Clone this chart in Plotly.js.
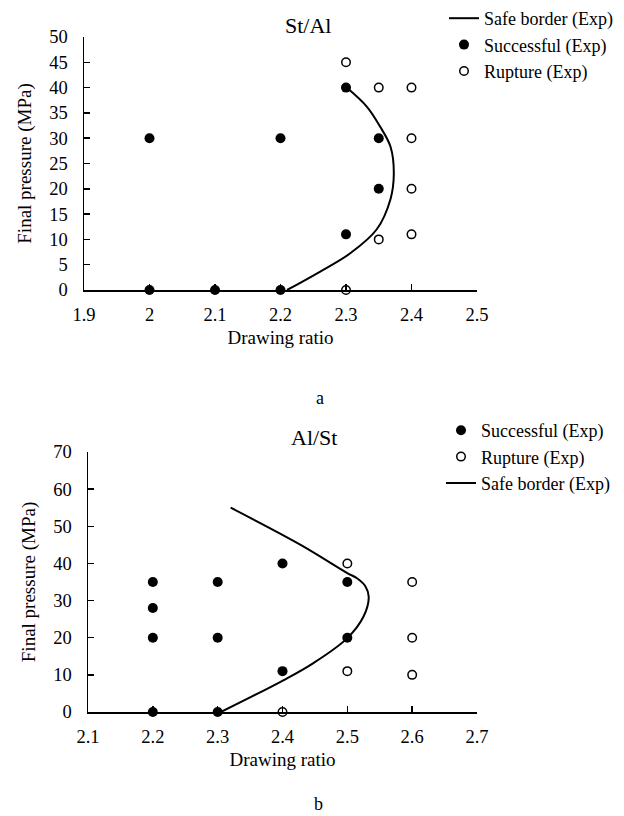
<!DOCTYPE html>
<html>
<head>
<meta charset="utf-8">
<script src="https://cdn.plot.ly/plotly-3.0.1.min.js"></script>
<style>html,body{margin:0;padding:0;background:#fff;}#chart{width:624px;height:816px;}</style>
</head>
<body>
<div id="chart"></div>
<script>
// ---- Chart a: St/Al ----
const aSuccessX = [2, 2.1, 2.2, 2, 2.2, 2.3, 2.35, 2.35, 2.3];
const aSuccessY = [0, 0, 0, 30, 30, 40, 30, 20, 11];
const aRuptureX = [2.3, 2.35, 2.4, 2.4, 2.4, 2.4, 2.35, 2.3];
const aRuptureY = [45, 40, 40, 30, 20, 11, 10, 0];
const aBorderX = [2.21, 2.26, 2.307, 2.347, 2.368, 2.373, 2.368, 2.352, 2.332, 2.301];
const aBorderY = [0, 3.6, 7.3, 12, 18, 23, 28.3, 32.3, 36.2, 40];

// ---- Chart b: Al/St ----
const bSuccessX = [2.2, 2.3, 2.2, 2.2, 2.2, 2.3, 2.3, 2.4, 2.4, 2.5, 2.5];
const bSuccessY = [0, 0, 20, 28, 35, 20, 35, 40, 11, 35, 20];
const bRuptureX = [2.4, 2.5, 2.5, 2.6, 2.6, 2.6];
const bRuptureY = [0, 40, 11, 35, 20, 10];
const bBorderX = [2.305, 2.402, 2.447, 2.5, 2.525, 2.533, 2.528, 2.515, 2.5, 2.428, 2.32];
const bBorderY = [0, 8.6, 13.1, 19.9, 25.7, 31, 33.8, 36, 37.4, 45, 55];

const names = {border: 'Safe border (Exp)', success: 'Successful (Exp)', rupture: 'Rupture (Exp)'};
const FONT = 'Liberation Serif, Times New Roman, serif';

const filled = {symbol: 'circle', size: 10, color: '#000'};
const open = {symbol: 'circle-open', size: 8.5, color: '#000', line: {width: 1.5, color: '#000'}};

const traces = [
  {x: aBorderX, y: aBorderY, mode: 'lines', name: names.border, line: {color: '#000', width: 2, shape: 'spline'},
   xaxis: 'x', yaxis: 'y', legend: 'legend', legendrank: 1, cliponaxis: false},
  {x: aSuccessX, y: aSuccessY, mode: 'markers', name: names.success, marker: filled,
   xaxis: 'x', yaxis: 'y', legend: 'legend', legendrank: 2, cliponaxis: false},
  {x: aRuptureX, y: aRuptureY, mode: 'markers', name: names.rupture, marker: open,
   xaxis: 'x', yaxis: 'y', legend: 'legend', legendrank: 3, cliponaxis: false},
  {x: bSuccessX, y: bSuccessY, mode: 'markers', name: names.success, marker: filled,
   xaxis: 'x2', yaxis: 'y2', legend: 'legend2', legendrank: 1, cliponaxis: false},
  {x: bRuptureX, y: bRuptureY, mode: 'markers', name: names.rupture, marker: open,
   xaxis: 'x2', yaxis: 'y2', legend: 'legend2', legendrank: 2, cliponaxis: false},
  {x: bBorderX, y: bBorderY, mode: 'lines', name: names.border, line: {color: '#000', width: 2, shape: 'spline'},
   xaxis: 'x2', yaxis: 'y2', legend: 'legend2', legendrank: 3, cliponaxis: false}
];

const W = 624, H = 816;
function axisCommon() {
  return {
    showgrid: false, zeroline: false, showline: true, linecolor: '#000', linewidth: 1.5,
    ticks: 'inside', ticklen: 6, tickwidth: 1.5, tickcolor: '#000',
    tickfont: {family: FONT, size: 18.5, color: '#000'}, automargin: false, fixedrange: true
  };
}
const xTitle = {text: 'Drawing ratio', font: {family: FONT, size: 19, color: '#000'}, standoff: 7};
const yTitle = {text: 'Final pressure (MPa)', font: {family: FONT, size: 19, color: '#000'}, standoff: 12};

const layout = {
  width: W, height: H,
  margin: {l: 0, r: 0, t: 0, b: 0},
  paper_bgcolor: '#fff', plot_bgcolor: '#fff',
  font: {family: FONT, size: 18, color: '#000'},
  showlegend: true,
  xaxis: Object.assign(axisCommon(), {domain: [84 / W, 477 / W], range: [1.9, 2.5], dtick: 0.1, tick0: 1.9,
    anchor: 'y', title: xTitle, ticklabelstandoff: 7}),
  yaxis: Object.assign(axisCommon(), {domain: [1 - 290 / H, 1 - 37 / H], range: [0, 50], dtick: 5,
    anchor: 'x', title: yTitle, ticklabelstandoff: 11}),
  xaxis2: Object.assign(axisCommon(), {domain: [88 / W, 477 / W], range: [2.1, 2.7], dtick: 0.1, tick0: 2.1,
    anchor: 'y2', title: xTitle, ticklabelstandoff: 7}),
  yaxis2: Object.assign(axisCommon(), {domain: [1 - 712 / H, 1 - 452 / H], range: [0, 70], dtick: 10,
    anchor: 'x2', title: yTitle, ticklabelstandoff: 11}),
  legend: {x: 444 / W, y: 1, xanchor: 'left', yanchor: 'top', bgcolor: 'rgba(0,0,0,0)',
    font: {family: FONT, size: 18, color: '#000'}, traceorder: 'normal'},
  legend2: {x: 441 / W, y: 1 - 412 / H, xanchor: 'left', yanchor: 'top', bgcolor: 'rgba(0,0,0,0)',
    font: {family: FONT, size: 18, color: '#000'}, traceorder: 'normal'},
  annotations: [
    {text: 'St/Al', x: 308 / W, y: 1 - 25 / H, xref: 'paper', yref: 'paper', showarrow: false,
     xanchor: 'center', yanchor: 'middle', font: {family: FONT, size: 22, color: '#000'}},
    {text: 'Al/St', x: 314 / W, y: 1 - 437 / H, xref: 'paper', yref: 'paper', showarrow: false,
     xanchor: 'center', yanchor: 'middle', font: {family: FONT, size: 22, color: '#000'}},
    {text: 'a', x: 320 / W, y: 1 - 398 / H, xref: 'paper', yref: 'paper', showarrow: false,
     xanchor: 'center', yanchor: 'middle', font: {family: FONT, size: 18, color: '#000'}},
    {text: 'b', x: 318 / W, y: 1 - 804 / H, xref: 'paper', yref: 'paper', showarrow: false,
     xanchor: 'center', yanchor: 'middle', font: {family: FONT, size: 18, color: '#000'}}
  ]
};

Plotly.newPlot('chart', traces, layout, {displayModeBar: false, staticPlot: true});
</script>
</body>
</html>
